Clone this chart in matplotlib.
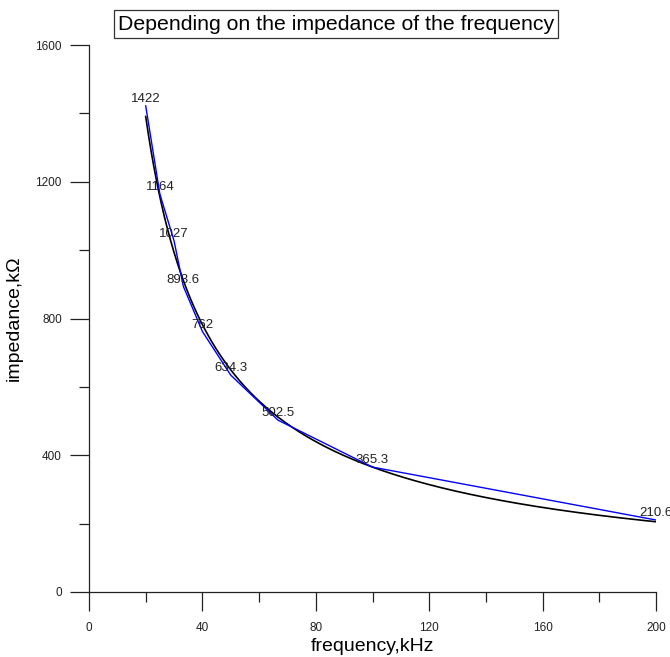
import numpy as np
import matplotlib
matplotlib.use("Agg")
import matplotlib.pyplot as plt
from matplotlib.ticker import MultipleLocator

plt.rcParams['font.family'] = ['Liberation Sans', 'DejaVu Sans']

# Data (frequency in kHz, impedance in kOhm)
freq = [20, 25, 30, 33.3, 40, 50, 66.7, 100, 200]
impedance = [1422, 1164, 1027, 893.6, 762, 634.3, 502.5, 365.3, 210.6]
point_labels = ["1422", "1164", "1027", "893.6", "762", "634.3", "502.5", "365.3", "210.6"]

title = "Depending on the impedance of the frequency"
xlabel = "frequency,kHz"
ylabel = "impedance,k\u03a9"

# Power-law fit of the data (black curve)
b, loga = np.polyfit(np.log(freq), np.log(impedance), 1)
xf = np.linspace(min(freq), max(freq), 400)
yf = np.exp(loga) * xf ** b

W, H = 670, 657
fig = plt.figure(figsize=(W / 100, H / 100), dpi=100)
ax = fig.add_axes([89 / W, 1 - 592 / H, (656 - 89) / W, (592 - 45) / H])

ax.plot(xf, yf, color='black', lw=1.2, zorder=2)
ax.plot(freq, impedance, color='blue', lw=1.0, zorder=3)
for x, y, s in zip(freq, impedance, point_labels):
    ax.annotate(s, (x, y), xytext=(0, 5), textcoords='offset points',
                ha='center', va='center', fontsize=9.5, color='#222222',
                annotation_clip=False, zorder=4)

ax.set_xlim(0, 200)
ax.set_ylim(0, 1600)
ax.xaxis.set_major_locator(MultipleLocator(40))
ax.xaxis.set_minor_locator(MultipleLocator(20))
ax.yaxis.set_major_locator(MultipleLocator(400))
ax.yaxis.set_minor_locator(MultipleLocator(200))

for side in ('top', 'right'):
    ax.spines[side].set_visible(False)
for side in ('left', 'bottom'):
    ax.spines[side].set_linewidth(0.9)
    ax.spines[side].set_color('#222222')

ax.tick_params(axis='both', which='major', direction='out', length=13.5, width=0.9,
               colors='#222222', labelsize=8.5)
ax.tick_params(axis='both', which='minor', direction='out', length=7, width=0.9,
               colors='#222222')
ax.tick_params(axis='y', which='major', pad=6)
ax.tick_params(axis='x', which='major', pad=8)

ax.set_xlabel(xlabel, fontsize=14, labelpad=3)
ax.set_ylabel(ylabel, fontsize=14, labelpad=9)

fig.text(336 / W, 1 - 24 / H, title, ha='center', va='center', fontsize=15.3,
         bbox=dict(boxstyle='square,pad=0.2', facecolor='white', edgecolor='#333333', lw=0.9))

fig.savefig('out.png', dpi=100)
